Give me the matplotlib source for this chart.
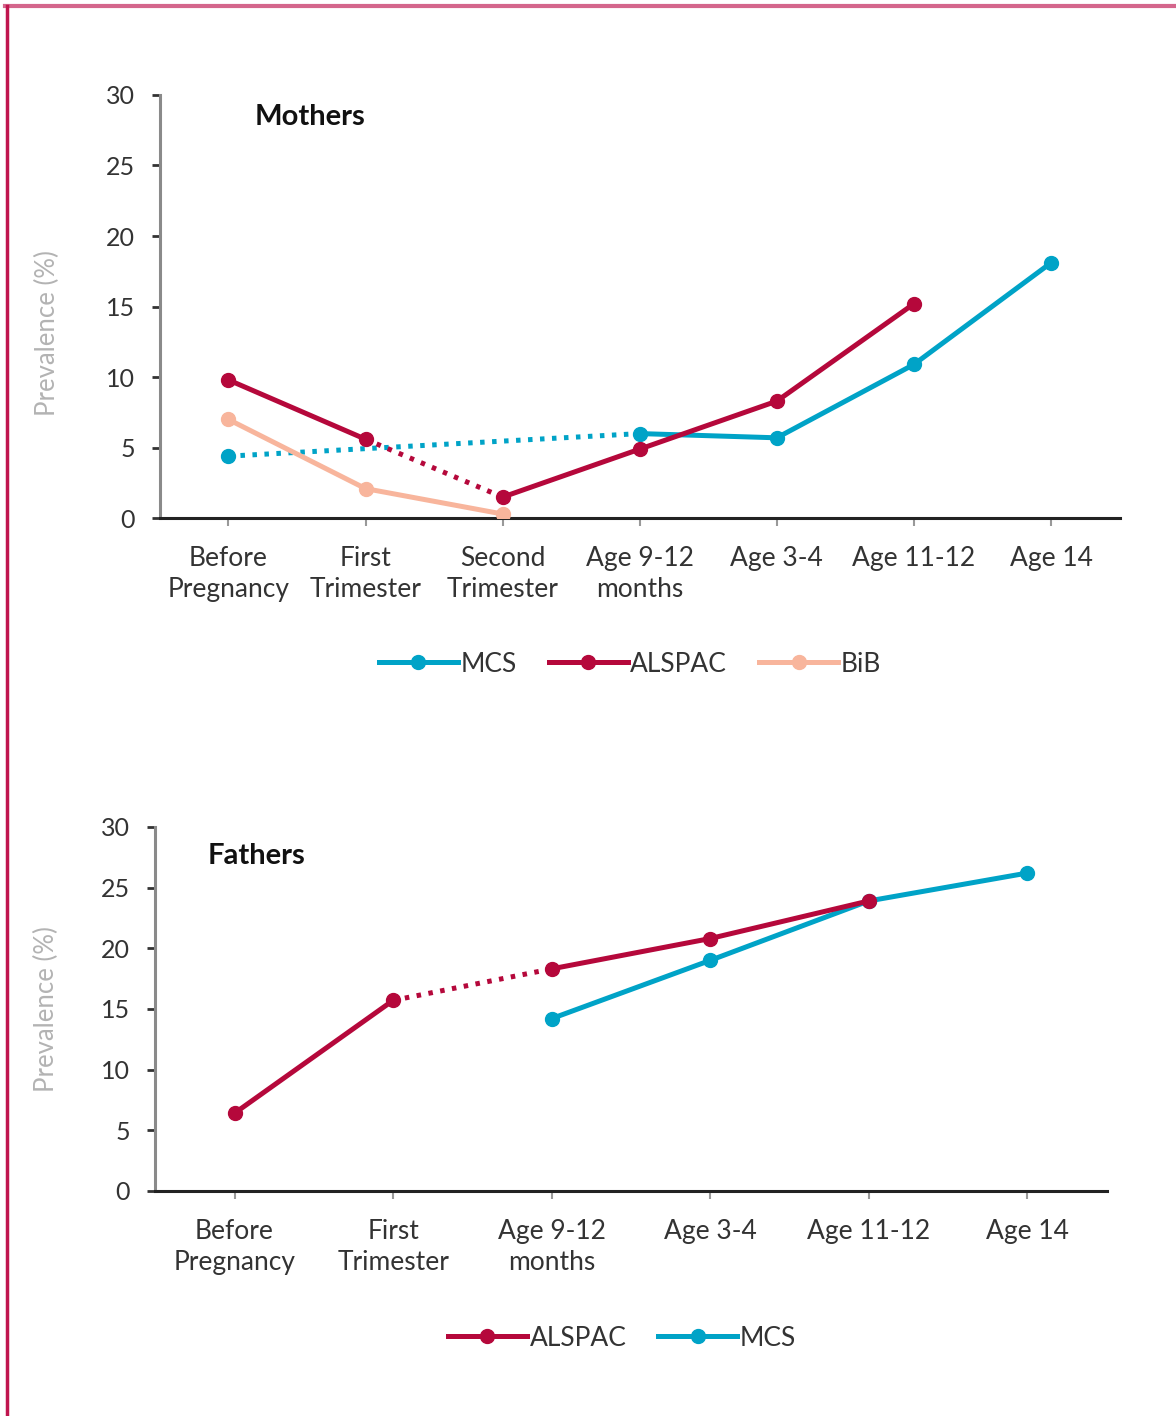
import matplotlib
matplotlib.use("Agg")
import matplotlib.pyplot as plt
import numpy as np
from matplotlib.lines import Line2D

plt.rcParams['font.family'] = ['Lato', 'DejaVu Sans']

# ---------------- data ----------------
mother_cats = ["Before\nPregnancy", "First\nTrimester", "Second\nTrimester",
               "Age 9-12\nmonths", "Age 3-4", "Age 11-12", "Age 14"]
m_mcs = [4.4, np.nan, np.nan, 6.0, 5.7, 10.9, 18.1]
m_alspac = [9.8, 5.6, 1.5, 4.9, 8.3, 15.2, np.nan]
m_bib = [7.0, 2.1, 0.3, np.nan, np.nan, np.nan, np.nan]

father_cats = ["Before\nPregnancy", "First\nTrimester", "Age 9-12\nmonths",
               "Age 3-4", "Age 11-12", "Age 14"]
f_alspac = [6.4, 15.7, 18.3, 20.8, 23.9, np.nan]
f_mcs = [np.nan, np.nan, 14.2, 19.0, 23.9, 26.2]

yticks = [0, 5, 10, 15, 20, 25, 30]

C_MCS = "#00A3C7"
C_ALS = "#B5083B"
C_BIB = "#F8B59C"

LW = 3.6
MS = 10
DOT = (0, (0.9, 1.5))

fig = plt.figure(figsize=(11.76, 14.16), dpi=100)

def style_axes(ax, n, ylab_x, ylab_y):
    ax.set_xlim(-0.5, n - 0.5)
    ax.set_ylim(0, 30)
    ax.set_yticks(yticks)
    for s in ["top", "right"]:
        ax.spines[s].set_visible(False)
    ax.spines["left"].set_color("#8a8a8a")
    ax.spines["left"].set_linewidth(2.2)
    ax.spines["bottom"].set_color("#222222")
    ax.spines["bottom"].set_linewidth(2.2)
    ax.tick_params(axis="y", length=6, width=2, color="#333333",
                   labelsize=18, labelcolor="#333333", pad=12)
    ax.tick_params(axis="x", length=6, width=1.5, color="#999999",
                   labelsize=19, labelcolor="#333333", pad=14)
    ax.set_ylabel("Prevalence (%)", fontsize=18.5, color="#b3b3b3")
    ax.yaxis.set_label_coords(ylab_x, ylab_y)
    for lab in ax.get_xticklabels():
        lab.set_linespacing(1.3)

def seg(ax, x, y, i0, i1, color, ls):
    ax.plot([x[i0], x[i1]], [y[i0], y[i1]], color=color, lw=LW, ls=ls,
            solid_capstyle="butt", dash_capstyle="butt", zorder=2)

# ---------------- Mothers ----------------
ax1 = fig.add_axes([0.136, 0.634, 0.816, 0.299])
x1 = np.arange(len(mother_cats))
seg(ax1, x1, m_mcs, 0, 3, C_MCS, DOT)
seg(ax1, x1, m_alspac, 1, 2, C_ALS, DOT)
ax1.plot(x1[:3], m_bib[:3], color=C_BIB, lw=LW, marker="o", ms=MS, zorder=3)
ax1.plot(x1[0:2], m_alspac[0:2], color=C_ALS, lw=LW, marker="o", ms=MS, zorder=4)
ax1.plot(x1[2:6], m_alspac[2:6], color=C_ALS, lw=LW, marker="o", ms=MS, zorder=4)
ax1.plot(x1[0:1], m_mcs[0:1], color=C_MCS, lw=LW, marker="o", ms=MS, zorder=3)
ax1.plot(x1[3:7], m_mcs[3:7], color=C_MCS, lw=LW, marker="o", ms=MS, zorder=3)
ax1.set_xticks(x1)
ax1.set_xticklabels(mother_cats)
style_axes(ax1, len(mother_cats), -100 / 960, 0.437)
ax1.text(0.099, 0.948, "Mothers", transform=ax1.transAxes, fontsize=21,
         fontweight="bold", color="#111111", va="center", ha="left")

h1 = [Line2D([], [], color=C_MCS, lw=LW, marker="o", ms=MS),
      Line2D([], [], color=C_ALS, lw=LW, marker="o", ms=MS),
      Line2D([], [], color=C_BIB, lw=LW, marker="o", ms=MS)]
fig.legend(h1, ["MCS", "ALSPAC", "BiB"], loc="center",
           bbox_to_anchor=(630 / 1176, 1 - 664 / 1416), ncol=3, frameon=False,
           fontsize=19, handlelength=3.0, handletextpad=0.1, columnspacing=1.2,
           labelcolor="#333333")

# ---------------- Fathers ----------------
ax2 = fig.add_axes([0.132, 0.159, 0.809, 0.257])
x2 = np.arange(len(father_cats))
seg(ax2, x2, f_alspac, 1, 2, C_ALS, DOT)
ax2.plot(x2[2:6], f_mcs[2:6], color=C_MCS, lw=LW, marker="o", ms=MS, zorder=3)
ax2.plot(x2[0:2], f_alspac[0:2], color=C_ALS, lw=LW, marker="o", ms=MS, zorder=4)
ax2.plot(x2[2:5], f_alspac[2:5], color=C_ALS, lw=LW, marker="o", ms=MS, zorder=4)
ax2.set_xticks(x2)
ax2.set_xticklabels(father_cats)
style_axes(ax2, len(father_cats), -96 / 952, 0.5)
ax2.text(0.055, 0.92, "Fathers", transform=ax2.transAxes, fontsize=21,
         fontweight="bold", color="#111111", va="center", ha="left")

h2 = [Line2D([], [], color=C_ALS, lw=LW, marker="o", ms=MS),
      Line2D([], [], color=C_MCS, lw=LW, marker="o", ms=MS)]
fig.legend(h2, ["ALSPAC", "MCS"], loc="center",
           bbox_to_anchor=(622 / 1176, 1 - 1338 / 1416), ncol=2, frameon=False,
           fontsize=19, handlelength=3.0, handletextpad=0.1, columnspacing=1.2,
           labelcolor="#333333")

# ---------------- frame border ----------------
fig.add_artist(Line2D([5 / 1176, 1.0], [1 - 6 / 1416, 1 - 6 / 1416],
                      transform=fig.transFigure, color="#D4668C", lw=3))
fig.add_artist(Line2D([7 / 1176, 7 / 1176], [0, 1 - 6 / 1416],
                      transform=fig.transFigure, color="#C0154E", lw=2.5))

fig.savefig("out.png", dpi=100, facecolor="white")
